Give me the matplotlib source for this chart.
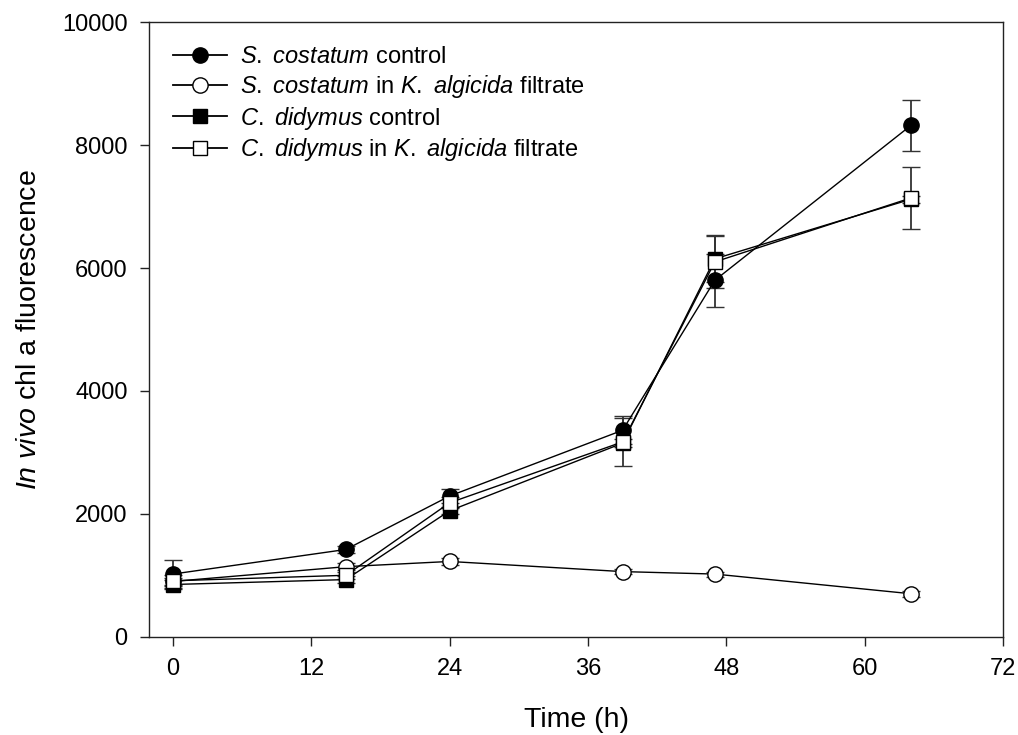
import matplotlib
matplotlib.use("Agg")
import matplotlib.pyplot as plt
from matplotlib.lines import Line2D

plt.rcParams['font.family'] = ['Liberation Sans', 'DejaVu Sans']
plt.rcParams['mathtext.fontset'] = 'custom'
plt.rcParams['mathtext.rm'] = 'Liberation Sans'
plt.rcParams['mathtext.it'] = 'Liberation Sans:italic'

time_h = [0, 15, 24, 39, 47, 64]

# S. costatum
sc_ctrl = [1020, 1420, 2290, 3360, 5800, 8320]
sc_ctrl_err = [230, 50, 110, 230, 430, 420]
sc_filt = [900, 1140, 1225, 1060, 1020, 700]
sc_filt_err = [60, 60, 50, 40, 40, 50]

# C. didymus
cd_ctrl = [850, 930, 2050, 3150, 6150, 7120]
cd_ctrl_err = [80, 60, 60, 60, 380, 60]
cd_filt = [910, 1000, 2180, 3170, 6100, 7140]
cd_filt_err = [90, 60, 90, 390, 420, 510]

labels = [r'$\mathit{S.}$ $\mathit{costatum}$ control',
          r'$\mathit{S.}$ $\mathit{costatum}$ in $\mathit{K.}$ $\mathit{algicida}$ filtrate',
          r'$\mathit{C.}$ $\mathit{didymus}$ control',
          r'$\mathit{C.}$ $\mathit{didymus}$ in $\mathit{K.}$ $\mathit{algicida}$ filtrate']

fig = plt.figure(figsize=(10.18, 7.35), dpi=100)
ax = fig.add_axes([0.1464, 0.1337, 0.8389, 0.836])

series = [
    (sc_ctrl, sc_ctrl_err, 'o', 'black', 11),
    (sc_filt, sc_filt_err, 'o', 'white', 11),
    (cd_ctrl, cd_ctrl_err, 's', 'black', 10),
    (cd_filt, cd_filt_err, 's', 'white', 10),
]
handles = []
for (y, err, m, fc, ms), lab in zip(series, labels):
    ax.errorbar(time_h, y, yerr=err, marker=m, markersize=ms, markerfacecolor=fc,
                markeredgecolor='black', markeredgewidth=1.0, color='black',
                linewidth=1.0, ecolor='#333333', elinewidth=1.3, capsize=6.5,
                capthick=1.3)
    handles.append(Line2D([], [], marker=m, markersize=ms, markerfacecolor=fc,
                          markeredgecolor='black', color='black', linewidth=1.3,
                          label=lab))

ax.set_xlim(-2.07, 72)
ax.set_ylim(0, 10000)
ax.set_xticks(range(0, 73, 12))
ax.set_yticks(range(0, 10001, 2000))
for s in ax.spines.values():
    s.set_linewidth(1.0)
    s.set_color('#222222')
ax.tick_params(labelsize=17, length=6.5, width=1.0, direction='out',
               color='#222222', pad=9)
ax.set_xlabel('Time (h)', fontsize=20.5, labelpad=19)
ax.set_ylabel(r'$\mathit{In}$ $\mathit{vivo}$ chl a fluorescence', fontsize=20.5,
              labelpad=14)

ax.legend(handles=handles, loc='upper left', bbox_to_anchor=(0.028, 0.961),
          frameon=False, fontsize=17, handlelength=2.3, handletextpad=0.55,
          labelspacing=0.2, borderpad=0, borderaxespad=0)

fig.savefig('out.png', dpi=100)
